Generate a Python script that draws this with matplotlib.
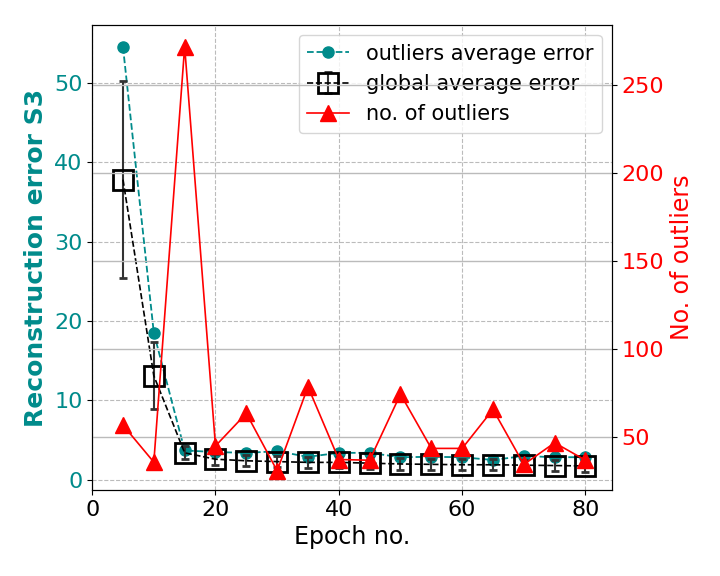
import numpy as np
import matplotlib
matplotlib.use("Agg")
from matplotlib import pyplot as plt

epochs = [5, 10, 15, 20, 25, 30, 35, 40, 45, 50, 55, 60, 65, 70, 75, 80]
outliers_err = [54.5, 18.5, 3.7, 3.5, 3.4, 3.6, 2.9, 3.4, 3.4, 2.85, 2.9, 2.85, 2.5, 3.0, 2.85, 2.85]
global_err = [37.8, 13.1, 3.4, 2.6, 2.4, 2.3, 2.2, 2.2, 2.1, 2.0, 1.95, 1.9, 1.9, 1.85, 1.8, 1.75]
global_std = [12.4, 4.2, 0.8, 0.7, 0.7, 0.7, 0.7, 0.7, 0.7, 0.7, 0.7, 0.7, 0.7, 0.7, 0.7, 0.7]
n_outliers = [56.8, 35.8, 271.6, 45.0, 63.5, 30.9, 78.6, 37.3, 36.9, 74.4, 43.6, 43.6, 65.7, 34.5, 46.8, 36.9]

teal = "#008b8b"

fig, ax1 = plt.subplots(figsize=(7.2, 5.76), dpi=100)
fig.subplots_adjust(left=0.128, right=0.85, bottom=0.149, top=0.957)

l1, = ax1.plot(epochs, outliers_err, "--o", color=teal, markersize=8, linewidth=1.3,
               label="outliers average error")
l2 = ax1.errorbar(epochs, global_err, yerr=global_std, fmt="--s", color="black",
                  ecolor="#333333", elinewidth=1.5, capsize=3, capthick=1.5,
                  markersize=15, markerfacecolor="none", markeredgewidth=2,
                  linewidth=1.2, label="global average error")
ax1.set_xlim(0, 84.3)
ax1.set_ylim(-1.3, 57.3)
ax1.grid(True, linestyle="--", color="#bbbbbb", linewidth=0.8)
ax1.set_xlabel("Epoch no.", fontsize=17)
ax1.set_ylabel("Reconstruction error S3", fontsize=18, fontweight="bold", color=teal)
ax1.tick_params(axis="both", labelsize=16)
ax1.tick_params(axis="y", labelcolor=teal)
ax1.set_xticks([0, 20, 40, 60, 80])

ax2 = ax1.twinx()
l3, = ax2.plot(epochs, n_outliers, "-^", color="red", markersize=12, linewidth=1.2,
               label="no. of outliers")
ax2.set_ylim(19.9, 284)
ax2.yaxis.grid(True, color="#bbbbbb", linewidth=1)
ax2.set_ylabel("No. of outliers", fontsize=17, color="red")
ax2.tick_params(axis="y", labelsize=16, labelcolor="red")
ax2.set_yticks([50, 100, 150, 200, 250])

ax1.legend([l1, l2, l3], ["outliers average error", "global average error", "no. of outliers"],
           loc="upper right", fontsize=15)

plt.savefig("out.png")
